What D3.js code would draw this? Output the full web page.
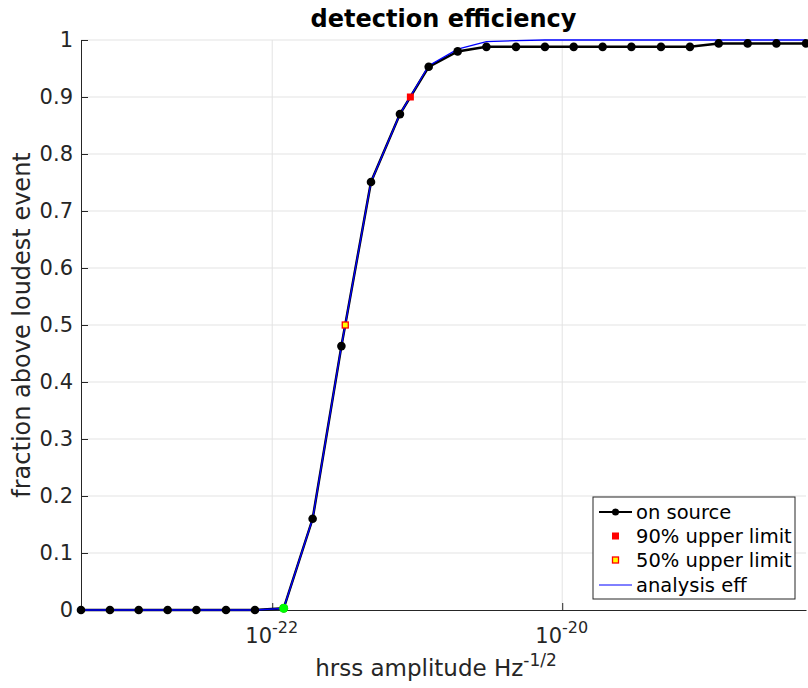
<!DOCTYPE html>
<meta charset="utf-8">
<style>
body { margin: 0; background: #fff; }
text { font-family: "DejaVu Sans", sans-serif; fill: #262626; }
.grid line { stroke: #e3e3e3; stroke-width: 1; }
</style>
<body>
<script src="https://cdn.jsdelivr.net/npm/d3@7"></script>
<script>

// hrss amplitudes of the injections
var hrss = [4.8e-24, 7.6e-24, 1.2e-23, 1.9e-23, 3.0e-23, 4.8e-23, 7.6e-23,
            1.2e-22, 1.9e-22, 3.0e-22, 4.8e-22, 7.6e-22, 1.2e-21, 1.9e-21,
            3.0e-21, 4.8e-21, 7.6e-21, 1.2e-20, 1.9e-20, 3.0e-20, 4.8e-20,
            7.6e-20, 1.2e-19, 1.9e-19, 3.0e-19, 4.8e-19];
// on source efficiency
var onSource = [0, 0, 0, 0, 0, 0, 0, 0.003, 0.160, 0.463, 0.751, 0.870, 0.953,
                0.980, 0.988, 0.988, 0.988, 0.988, 0.988, 0.988, 0.988, 0.988,
                0.994, 0.994, 0.994, 0.994];
// analysis efficiency
var analysisEff = [0, 0, 0, 0, 0, 0, 0, 0.003, 0.160, 0.463, 0.751, 0.870, 0.955,
                   0.984, 0.997, 0.999, 1, 1, 1, 1, 1, 1, 1, 1, 1, 1];
// loudest-event marker (green)
var loudest = {x: 1.2e-22, y: 0.003};
var ul90 = {x: 8.97e-22, y: 0.9};
var ul50 = {x: 3.19e-22, y: 0.5};

var yTicks = [0, 0.1, 0.2, 0.3, 0.4, 0.5, 0.6, 0.7, 0.8, 0.9, 1];
var yTickLabels = ["0", "0.1", "0.2", "0.3", "0.4", "0.5", "0.6", "0.7", "0.8", "0.9", "1"];
var xTicks = [1e-22, 1e-20];
var xTickExp = ["-22", "-20"];

var margin = {top: 40, right: 2, bottom: 78, left: 81},
    width = 808 - margin.left - margin.right,
    height = 688 - margin.top - margin.bottom;

var x = d3.scaleLog()
    .domain(d3.extent(hrss))
    .range([0, width]);
var y = d3.scaleLinear()
    .domain([0, 1])
    .range([height, 0]);

var svg = d3.select("body").append("svg")
    .attr("width", 808)
    .attr("height", 688);
var g = svg.append("g")
    .attr("transform", "translate(" + margin.left + "," + margin.top + ")");

// grid
var grid = g.append("g").attr("class", "grid");
grid.selectAll(".gy").data(yTicks.slice(1)).enter().append("line")
    .attr("x1", 0).attr("x2", width)
    .attr("y1", function(d) { return y(d); })
    .attr("y2", function(d) { return y(d); });
grid.selectAll(".gx").data(xTicks).enter().append("line")
    .attr("y1", 0).attr("y2", height)
    .attr("x1", function(d) { return x(d); })
    .attr("x2", function(d) { return x(d); });

// axes (matlab style, ticks inward)
var yAxis = g.append("g")
    .call(d3.axisLeft(y).tickValues(yTicks).tickSizeInner(-7).tickSizeOuter(0)
          .tickFormat(function(d, i) { return yTickLabels[i]; }));
yAxis.select(".domain").attr("stroke", "#262626");
yAxis.selectAll(".tick line").attr("stroke", "#262626");
yAxis.selectAll(".tick text")
    .attr("x", -8)
    .style("font-size", "21px")
    .attr("fill", "#262626");

var xAxis = g.append("g")
    .attr("transform", "translate(0," + height + ")")
    .call(d3.axisBottom(x).tickValues(xTicks).tickSizeInner(-7).tickSizeOuter(0)
          .tickFormat(""));
xAxis.select(".domain").attr("stroke", "#262626");
xAxis.selectAll(".tick line").attr("stroke", "#262626");
xAxis.selectAll(".tick").append("text")
    .attr("y", 33)
    .attr("x", -1)
    .attr("text-anchor", "middle")
    .attr("fill", "#262626")
    .style("font-size", "21px")
    .each(function(d, i) {
      var t = d3.select(this);
      t.append("tspan").text("10");
      t.append("tspan").attr("dy", -10).style("font-size", "16px").text(xTickExp[i]);
    });

// lines
var line = function(vals) {
  return d3.line()
    .x(function(d, i) { return x(hrss[i]); })
    .y(function(d) { return y(d); })(vals);
};

g.append("path")
    .attr("d", line(onSource))
    .attr("fill", "none")
    .attr("stroke", "#000")
    .attr("stroke-width", 2.5);

g.append("path")
    .attr("d", line(analysisEff))
    .attr("fill", "none")
    .attr("stroke", "#0000ff")
    .attr("stroke-width", 1.3);

g.selectAll(".dot").data(onSource).enter().append("circle")
    .attr("cx", function(d, i) { return x(hrss[i]); })
    .attr("cy", function(d) { return y(d); })
    .attr("r", 4.3)
    .attr("fill", "#000");

g.append("circle")
    .attr("cx", x(loudest.x)).attr("cy", y(loudest.y))
    .attr("r", 4.5).attr("fill", "#00ff00");

g.append("rect")
    .attr("x", x(ul90.x) - 3.5).attr("y", y(ul90.y) - 3.5)
    .attr("width", 7).attr("height", 7)
    .attr("fill", "#ff0000");
g.append("rect")
    .attr("x", x(ul50.x) - 3).attr("y", y(ul50.y) - 3)
    .attr("width", 6).attr("height", 6)
    .attr("fill", "#ffff00").attr("stroke", "#ff0000").attr("stroke-width", 1.3);

// title and labels
svg.append("text")
    .attr("x", margin.left + width / 2)
    .attr("y", 27)
    .attr("text-anchor", "middle")
    .style("font-size", "24px")
    .style("font-weight", "bold")
    .style("fill", "#000")
    .text("detection efficiency");

var xl = svg.append("text")
    .attr("x", 436)
    .attr("y", 676)
    .attr("text-anchor", "middle")
    .style("font-size", "23px");
xl.append("tspan").text("hrss amplitude Hz");
xl.append("tspan").attr("dy", -10).style("font-size", "17px").text("-1/2");

svg.append("text")
    .attr("transform", "translate(30," + (margin.top + height / 2) + ") rotate(-90)")
    .attr("text-anchor", "middle")
    .style("font-size", "24px")
    .text("fraction above loudest event");

// legend
var lg = svg.append("g").attr("transform", "translate(593,497)");
lg.append("rect")
    .attr("width", 202).attr("height", 102)
    .attr("fill", "#fff").attr("stroke", "#262626").attr("stroke-width", 1);
var rows = [15, 39, 63, 88];
lg.append("line").attr("x1", 6).attr("x2", 39).attr("y1", rows[0]).attr("y2", rows[0])
    .attr("stroke", "#000").attr("stroke-width", 2);
lg.append("circle").attr("cx", 22.5).attr("cy", rows[0]).attr("r", 3.5).attr("fill", "#000");
lg.append("rect").attr("x", 19).attr("y", rows[1] - 3.5).attr("width", 7).attr("height", 7)
    .attr("fill", "#ff0000");
lg.append("rect").attr("x", 19.5).attr("y", rows[2] - 3).attr("width", 6).attr("height", 6)
    .attr("fill", "#ffff00").attr("stroke", "#ff0000").attr("stroke-width", 1.3);
lg.append("line").attr("x1", 6).attr("x2", 39).attr("y1", rows[3]).attr("y2", rows[3])
    .attr("stroke", "#0000ff").attr("stroke-width", 1);
var labels = ["on source", "90% upper limit", "50% upper limit", "analysis eff"];
lg.selectAll(".lt").data(labels).enter().append("text")
    .attr("x", 43)
    .attr("y", function(d, i) { return rows[i]; })
    .attr("dy", "0.35em")
    .style("font-size", "19.5px")
    .style("fill", "#000")
    .text(function(d) { return d; });

</script>
</body>
